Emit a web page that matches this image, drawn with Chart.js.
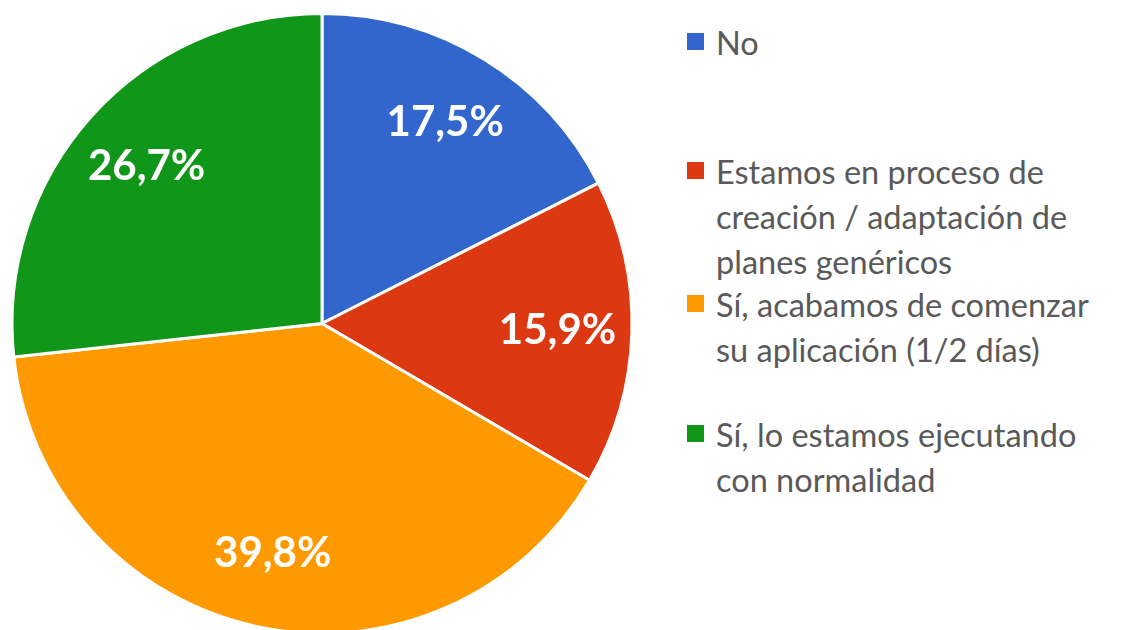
<!DOCTYPE html>
<html>
<head>
<meta charset="utf-8">
<script src="https://cdn.jsdelivr.net/npm/chart.js@4"></script>
<style>
html,body{margin:0;padding:0;background:#fff;width:1122px;height:630px;overflow:hidden;position:relative;font-family:Lato,"Open Sans",sans-serif;}
#wrap{position:absolute;left:0;top:12px;width:644px;height:623px;}
#legend{position:absolute;left:687px;top:0;width:430px;}
.item{position:absolute;left:0;}
.sw{position:absolute;left:0;width:17px;height:17px;}
.txt{position:absolute;left:29px;color:#595959;font-size:32.5px;line-height:45px;white-space:nowrap;}
</style>
</head>
<body>
<div id="wrap"><canvas id="c"></canvas></div>
<div id="legend"></div>
<script>
const categories = [
  ["No"],
  ["Estamos en proceso de", "creación / adaptación de", "planes genéricos"],
  ["Sí, acabamos de comenzar", "su aplicación (1/2 días)"],
  ["Sí, lo estamos ejecutando", "con normalidad"]
];
const values = [17.5, 15.9, 39.8, 26.7];
const colors = ["#3366CC", "#DC3912", "#FF9900", "#109618"];
const legendTops = [20, 149, 282, 412];

const labelPlugin = {
  id: 'sliceLabels',
  afterDatasetsDraw(chart) {
    const ctx = chart.ctx;
    const meta = chart.getDatasetMeta(0);
    ctx.save();
    ctx.fillStyle = '#fff';
    ctx.font = 'bold 42px Lato, "Open Sans", sans-serif';
    ctx.textAlign = 'center';
    ctx.textBaseline = 'middle';
    meta.data.forEach((arc, i) => {
      const p = arc.getProps(['x','y','startAngle','endAngle','outerRadius'], true);
      const mid = (p.startAngle + p.endAngle) / 2;
      const r = p.outerRadius * 0.76;
      const txt = values[i].toFixed(1).replace('.', ',') + '%';
      ctx.fillText(txt, p.x + Math.cos(mid) * r, p.y + Math.sin(mid) * r);
    });
    ctx.restore();
  }
};

new Chart(document.getElementById('c'), {
  type: 'pie',
  data: {
    labels: categories,
    datasets: [{
      data: values,
      backgroundColor: colors,
      borderColor: '#ffffff',
      borderWidth: 3
    }]
  },
  options: {
    responsive: true,
    maintainAspectRatio: false,
    animation: false,
    plugins: { legend: { display: false }, tooltip: { enabled: false } },
    layout: { padding: 0 }
  },
  plugins: [labelPlugin]
});

const lg = document.getElementById('legend');
categories.forEach((lines, i) => {
  const it = document.createElement('div');
  it.className = 'item';
  it.style.top = legendTops[i] + 'px';
  const sw = document.createElement('div');
  sw.className = 'sw';
  sw.style.background = colors[i];
  sw.style.top = '13px';
  const t = document.createElement('div');
  t.className = 'txt';
  t.innerHTML = lines.join('<br>');
  it.appendChild(sw);
  it.appendChild(t);
  lg.appendChild(it);
});
</script>
</body>
</html>
